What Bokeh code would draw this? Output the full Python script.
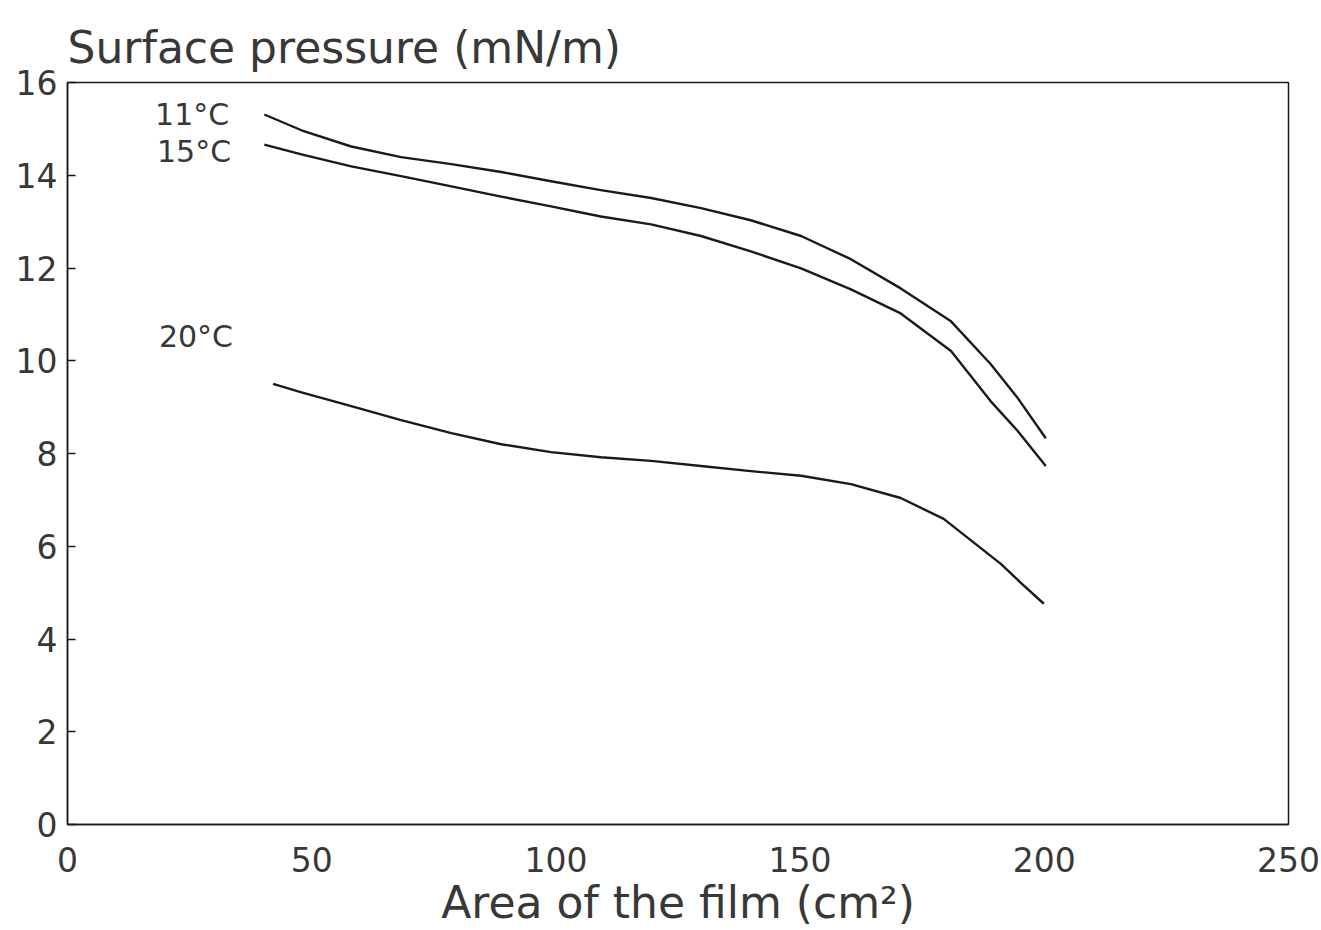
from bokeh.plotting import figure
from bokeh.models import FixedTicker, Range1d
from bokeh.core.properties import value
from bokeh.embed import file_html
from bokeh.resources import INLINE

# data
area_11 = [40.3, 47.9, 58.1, 68.3, 78.6, 88.8, 99.0, 109.2, 119.5, 129.7, 139.9, 150.2, 160.4, 170.6, 180.9, 189.0, 194.6, 200.3]
press_11 = [15.31, 14.97, 14.62, 14.39, 14.24, 14.07, 13.87, 13.68, 13.51, 13.29, 13.03, 12.69, 12.19, 11.56, 10.85, 9.93, 9.19, 8.33]

area_15 = [40.3, 47.9, 58.1, 68.3, 78.6, 88.8, 99.0, 109.2, 119.5, 129.7, 139.9, 150.2, 160.4, 170.6, 180.9, 189.0, 194.6, 200.3]
press_15 = [14.66, 14.45, 14.19, 13.98, 13.76, 13.54, 13.33, 13.11, 12.94, 12.69, 12.36, 11.99, 11.54, 11.02, 10.21, 9.13, 8.48, 7.73]

area_20 = [42.1, 47.9, 58.1, 68.3, 78.6, 88.8, 99.0, 109.2, 119.5, 129.7, 139.9, 150.2, 160.4, 170.6, 179.4, 191.1, 195.2, 199.9]
press_20 = [9.50, 9.32, 9.02, 8.72, 8.44, 8.20, 8.03, 7.92, 7.84, 7.73, 7.62, 7.52, 7.34, 7.04, 6.59, 5.62, 5.21, 4.76]

labels = ["11°C", "15°C", "20°C"]
label_x = [33.1, 33.5, 33.9]
label_y = [15.31, 14.51, 10.53]

x_ticks = [0, 50, 100, 150, 200, 250]
y_ticks = [0, 2, 4, 6, 8, 10, 12, 14, 16]

FONT = "DejaVu Sans"
TXT = "#383838"
INK = "#1a1a1a"

p = figure(width=1321, height=930, output_backend="svg", toolbar_location=None,
           x_range=Range1d(0, 250), y_range=Range1d(0, 16),
           min_border_left=67, min_border_right=33, min_border_top=82, min_border_bottom=106,
           title="Surface pressure (mN/m)")
p.title.text_font = FONT
p.title.text_font_size = "44px"
p.title.text_font_style = "normal"
p.title.text_color = TXT
p.title.align = "left"
p.title.offset = 0
p.title.standoff = 19

p.grid.visible = False
p.outline_line_color = INK
p.outline_line_width = 1.5
p.background_fill_color = "white"
p.border_fill_color = "white"

p.xaxis.ticker = FixedTicker(ticks=x_ticks)
p.yaxis.ticker = FixedTicker(ticks=y_ticks)
for ax in (p.xaxis, p.yaxis):
    ax.axis_line_color = INK
    ax.axis_line_width = 1.5
    ax.major_tick_line_color = INK
    ax.major_tick_line_width = 1.5
    ax.minor_tick_line_color = None
    ax.major_label_text_font = FONT
    ax.major_label_text_font_size = "33px"
    ax.major_label_text_color = TXT
p.xaxis.major_tick_in = 0
p.xaxis.major_tick_out = 0
p.yaxis.major_tick_in = 8
p.yaxis.major_tick_out = 0
p.yaxis.major_label_standoff = 10
p.xaxis.major_label_standoff = 22
p.xaxis.axis_label = "Area of the film (cm²)"
p.xaxis.axis_label_text_font = FONT
p.xaxis.axis_label_text_font_size = "44px"
p.xaxis.axis_label_text_font_style = "normal"
p.xaxis.axis_label_text_color = TXT
p.xaxis.axis_label_standoff = 2

for xs, ys in ((area_11, press_11), (area_15, press_15), (area_20, press_20)):
    p.line(xs, ys, line_color=INK, line_width=2.4, line_join="round")

p.text(x=label_x, y=label_y, text=labels, text_align="right", text_baseline="middle",
       text_font=value(FONT), text_font_size="30px", text_color=TXT)

open("out.html", "w").write(file_html(p, INLINE))
